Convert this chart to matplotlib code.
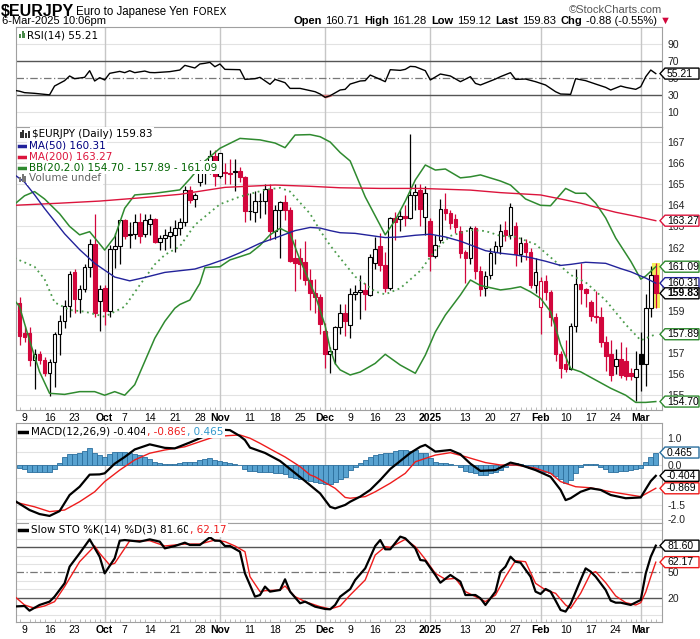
import numpy as np
import pandas as pd
import matplotlib
matplotlib.use("Agg")
import matplotlib.pyplot as plt
from matplotlib.lines import Line2D
from matplotlib.patches import Polygon, Rectangle
from matplotlib.transforms import IdentityTransform

plt.rcParams["font.family"] = "DejaVu Sans"

W, H = 700, 639
RED = "#d2063c"
NAVY = "#22229a"
CRIMSON = "#dc143c"
GREEN = "#2f8a2f"
AXF = "Liberation Sans"

# ---- daily candles, 6-Sep-2024 .. 6-Mar-2025 ----
opens = [159.35, 157.95, 157.96, 156.65, 156.97, 156.69, 156.07, 156.59, 157.91, 158.54,
         159.22, 160.83, 159.57, 160.01, 161.06, 162.18, 159.46, 160.09, 158.98, 161.93,
         162.06, 163.28, 162.60, 162.64, 163.20, 162.64, 163.13, 163.35, 162.26, 162.45,
         162.55, 162.60, 162.92, 163.20, 164.72, 164.31, 165.10, 165.67, 165.79, 166.35,
         165.41, 165.60, 165.55, 165.60, 165.63, 165.36, 163.72, 163.70, 164.18, 164.22,
         164.76, 162.76, 163.79, 164.15, 163.79, 161.50, 161.50, 161.30, 160.48, 159.85,
         159.65, 158.04, 156.94, 157.20, 158.24, 158.90, 158.35, 159.80, 159.90, 160.00,
         159.77, 161.27, 162.09, 161.19, 160.09, 163.39, 163.35, 163.50, 163.39, 164.50,
         164.72, 163.44, 163.27, 161.58, 162.37, 163.82, 163.63, 163.35, 162.80, 161.77,
         161.50, 162.92, 160.87, 160.06, 160.68, 161.80, 162.05, 162.84, 162.60, 163.03,
         161.69, 162.20, 161.80, 160.21, 159.17, 160.40, 159.88, 158.70, 156.94, 156.46,
         156.26, 158.28, 160.27, 160.04, 159.40, 158.75, 158.70, 157.50, 156.94, 156.40,
         156.73, 156.60, 156.07, 155.88, 156.97, 156.46, 159.14, 160.71]
highs = [159.65, 158.30, 158.25, 157.20, 157.10, 156.80, 156.70, 158.00, 158.80, 159.50,
         160.90, 161.00, 160.20, 161.20, 162.40, 163.58, 160.20, 160.20, 162.10, 162.70,
         163.30, 163.35, 163.20, 163.58, 163.63, 163.60, 163.60, 163.40, 162.60, 162.90,
         163.00, 163.30, 163.40, 164.90, 164.90, 164.60, 166.15, 165.95, 166.60, 166.60,
         166.50, 166.00, 166.20, 166.20, 165.80, 165.40, 164.60, 164.70, 164.60, 165.00,
         165.00, 164.00, 164.20, 164.50, 163.90, 162.40, 162.00, 162.30, 161.00, 160.50,
         159.80, 158.40, 157.30, 158.30, 159.30, 159.30, 160.10, 160.20, 160.70, 160.30,
         161.70, 162.50, 162.70, 161.80, 163.45, 163.68, 163.80, 164.00, 167.36, 165.00,
         165.00, 164.90, 163.40, 162.60, 164.30, 164.57, 163.80, 163.60, 163.00, 161.90,
         163.00, 163.00, 161.10, 160.90, 162.00, 162.30, 163.10, 163.24, 164.10, 163.20,
         162.50, 162.40, 162.00, 161.50, 160.60, 160.70, 160.00, 158.90, 157.10, 157.60,
         158.40, 161.00, 161.27, 160.10, 159.50, 159.93, 159.20, 157.80, 157.60, 157.20,
         157.50, 157.30, 156.30, 157.10, 158.00, 159.80, 161.10, 161.28]
lows = [157.40, 157.50, 156.40, 155.30, 156.50, 155.90, 154.97, 155.40, 156.90, 158.20,
        158.70, 158.90, 158.90, 159.90, 160.60, 158.70, 158.04, 158.35, 158.70, 161.03,
        161.20, 162.40, 162.00, 162.40, 162.20, 162.50, 162.60, 162.20, 161.90, 161.90,
        162.00, 161.80, 162.60, 163.00, 164.10, 163.90, 164.90, 165.00, 165.50, 164.90,
        165.30, 165.00, 165.00, 164.70, 165.10, 163.20, 163.30, 163.20, 163.40, 163.60,
        162.37, 162.40, 161.50, 163.30, 161.30, 159.93, 160.50, 160.20, 159.06, 158.90,
        157.90, 156.30, 156.07, 156.50, 157.90, 157.80, 157.70, 159.50, 158.60, 159.06,
        159.70, 161.00, 160.90, 159.90, 160.00, 162.37, 162.80, 163.00, 163.35, 163.80,
        163.00, 162.60, 160.87, 161.50, 162.20, 163.30, 162.90, 162.70, 161.50, 160.32,
        161.20, 160.50, 159.70, 159.70, 160.50, 161.20, 161.70, 162.30, 162.40, 161.10,
        161.30, 161.40, 160.10, 159.85, 157.88, 159.50, 158.30, 156.60, 155.83, 156.10,
        156.20, 158.00, 159.30, 159.20, 158.50, 158.40, 157.30, 156.15, 155.68, 156.00,
        155.80, 155.70, 155.70, 154.73, 155.20, 155.44, 158.70, 159.12]
closes = [157.80, 157.75, 156.65, 156.97, 156.65, 156.07, 156.59, 157.91, 158.54, 159.22,
          160.76, 159.54, 160.01, 161.06, 162.18, 158.91, 160.04, 158.98, 161.93, 162.06,
          163.28, 162.56, 162.64, 163.20, 162.56, 163.28, 163.35, 162.26, 162.45, 162.60,
          162.75, 162.92, 163.20, 164.72, 164.26, 164.50, 165.67, 165.79, 166.35, 165.41,
          166.46, 165.55, 165.50, 165.60, 165.36, 163.71, 163.75, 164.20, 164.22, 164.76,
          162.76, 163.79, 164.15, 163.79, 161.38, 161.27, 161.20, 160.48, 159.85, 159.65,
          158.39, 156.94, 157.10, 158.24, 158.90, 158.50, 159.80, 159.90, 160.00, 159.80,
          161.55, 161.93, 161.19, 160.09, 163.39, 163.23, 163.50, 163.39, 164.50, 164.63,
          163.83, 164.57, 161.58, 162.10, 163.82, 163.63, 163.16, 162.95, 161.74, 161.50,
          162.92, 160.87, 160.05, 160.64, 161.74, 162.05, 162.80, 162.60, 163.90, 161.69,
          162.20, 161.80, 160.21, 160.84, 160.40, 159.88, 158.70, 156.94, 156.30, 156.26,
          158.28, 160.27, 160.04, 159.85, 158.75, 158.70, 157.50, 156.86, 155.96, 156.70,
          155.96, 155.93, 155.90, 156.26, 156.46, 159.14, 160.68, 159.83]

# ---- overlays, read as (trading-day number, value) ----
ma50 = [(-1, 165.45), (1, 165.1), (3, 164.5), (5, 163.85), (7, 163.25), (9, 162.65),
        (12, 161.9), (15, 161.25), (19, 160.6), (22, 160.42), (25, 160.58), (29, 160.82),
        (32, 160.9), (35, 160.98), (38, 161.2), (41, 161.45), (44, 161.75), (48, 162.2),
        (51, 162.45), (55, 162.8), (58, 162.95), (60, 162.92), (62, 162.8), (64, 162.7),
        (67, 162.67), (70, 162.57), (73, 162.47), (76, 162.5), (79, 162.58), (82, 162.63),
        (85, 162.5), (88, 162.3), (90, 162.12), (93, 161.85), (96, 161.73), (99, 161.65),
        (102, 161.52), (105, 161.35), (108, 161.15), (110, 161.2), (113, 161.3), (117, 161.25),
        (120, 161.0), (122, 160.85), (125, 160.55), (127, 160.31)]
ma200 = [(-1, 164.0), (8, 164.1), (16, 164.2), (24, 164.35), (32, 164.52), (41, 164.85),
         (51, 164.96), (58, 164.9), (64, 164.83), (72, 164.8), (80, 164.8), (90, 164.72),
         (96, 164.6), (104, 164.49), (108, 164.3), (112, 164.1), (116, 163.85), (119, 163.67),
         (123, 163.48), (127, 163.27)]
bb_up = [(-1, 164.05), (1, 164.45), (3, 164.65), (5, 164.3), (8, 163.6), (10, 163.0),
         (12, 162.6), (14, 162.75), (17, 161.88), (19, 162.5), (21, 163.86), (23, 164.49),
         (27, 164.57), (32, 164.73), (34, 165.25), (37, 166.1), (40, 166.7), (44, 167.17),
         (48, 167.1), (51, 166.95), (53, 166.73), (55, 167.33), (58, 167.35), (60, 167.25),
         (62, 167.0), (64, 166.5), (66, 166.1), (69, 164.4), (71, 163.5), (73, 162.6),
         (75, 163.3), (77, 164.2), (79, 165.2), (81, 165.91), (83, 165.67), (85, 165.72),
         (88, 165.3), (90, 165.35), (92, 165.44), (96, 165.15), (98, 164.96), (101, 164.3),
         (104, 164.0), (106, 163.98), (109, 164.8), (111, 164.57), (113, 164.57), (115, 164.1),
         (117, 163.4), (119, 162.45), (122, 161.35), (124, 160.5), (125, 160.65), (127, 161.09)]
bb_mid = [(-1, 161.5), (3, 161.09), (5, 160.5), (7, 159.4), (10, 159.04), (13, 158.96),
          (17, 158.72), (21, 159.2), (24, 160.22), (27, 161.2), (29, 161.65), (32, 162.05),
          (35, 163.07), (40, 164.05), (44, 164.41), (49, 164.73), (52, 164.83), (54, 164.65),
          (58, 163.6), (60, 162.8), (62, 162.1), (64, 161.5), (67, 160.62), (71, 159.91),
          (73, 159.78), (76, 160.07), (80, 160.9), (83, 161.88), (86, 162.55), (90, 162.83),
          (93, 162.78), (96, 162.55), (99, 162.51), (103, 162.15), (107, 161.33), (110, 160.7),
          (113, 160.35), (117, 159.5), (121, 158.35), (124, 157.6), (127, 157.89)]
bb_low = [(-1, 159.5), (0, 159.2), (2, 157.6), (4, 156.11), (6, 155.09), (9, 155.04),
          (12, 155.17), (15, 155.17), (17, 155.0), (19, 155.17), (21, 155.0), (23, 155.5),
          (25, 156.6), (27, 157.7), (29, 158.5), (31, 159.12), (32, 159.3), (34, 159.51),
          (36, 160.3), (37, 161.05), (40, 161.09), (42, 161.41), (46, 161.72), (48, 162.1),
          (50, 162.6), (52, 162.91), (54, 162.67), (56, 161.4), (59, 159.75), (61, 158.3),
          (62, 157.2), (63, 156.5), (64, 156.2), (66, 155.96), (68, 156.1), (71, 156.51),
          (73, 156.94), (76, 156.43), (79, 156.04), (81, 156.9), (83, 158.0), (85, 158.8),
          (88, 159.75), (90, 160.46), (92, 160.2), (96, 159.99), (98, 160.05), (100, 160.14),
          (102, 159.9), (104, 159.59), (106, 158.96), (107, 158.2), (108, 157.4), (110, 156.27),
          (112, 156.11), (115, 155.72), (118, 155.33), (121, 155.0), (123, 154.66), (125, 154.66),
          (127, 154.70)]

rsi = [(-1, 35.5), (0, 34.5), (1, 32.8), (3, 32), (5, 30.8), (6, 30.2), (7, 40.6), (9, 46.9),
       (10, 52.4), (11, 49.2), (13, 50.8), (14, 58.6), (15, 46.5), (16, 50.4), (17, 47.7),
       (18, 55.5), (20, 57.8), (21, 56.3), (22, 58.6), (23, 56.3), (25, 58.2), (26, 56.5),
       (27, 56.3), (30, 57.5), (32, 59.4), (33, 64.9), (35, 61.8), (36, 66.5), (37, 67.3),
       (38, 68.4), (39, 63.3), (40, 66.5), (41, 60.2), (44, 59.8), (45, 48.4), (47, 49.2),
       (48, 50.8), (50, 42.6), (51, 48.4), (52, 46.5), (53, 44.5), (54, 37.8), (56, 37.8),
       (59, 33.9), (60, 31.2), (61, 27.3), (62, 29.2), (64, 35.9), (65, 36.7), (66, 42.9),
       (68, 46.5), (69, 46.9), (70, 53.5), (72, 48.4), (73, 45.7), (74, 59.8), (76, 59),
       (77, 60.2), (78, 63.7), (79, 63.3), (81, 58.6), (82, 47.7), (84, 54.7), (86, 52.4),
       (88, 45.7), (90, 51.6), (91, 43.7), (92, 41.8), (95, 48.8), (96, 51.6), (98, 56.3),
       (99, 48.4), (101, 48.8), (103, 45.7), (105, 41.8), (107, 33.9), (108, 31.2), (110, 30.8),
       (111, 49.2), (113, 46.9), (115, 42.9), (117, 39), (118, 35.9), (120, 40.6), (121, 39),
       (123, 36.7), (124, 39.8), (125, 51.6), (126, 59.4), (127, 55.21)]

macd = [(-1, -1.33), (2, -1.68), (4, -1.83), (6, -1.9), (8, -1.72), (10, -1.12), (12, -0.81),
        (14, -0.36), (16, -0.35), (17, -0.31), (19, 0.05), (21, 0.3), (23, 0.58), (26, 0.77),
        (29, 0.64), (31, 0.62), (34, 0.84), (37, 1.08), (38, 1.2), (40, 1.32), (42, 1.3),
        (44, 1.08), (45, 0.93), (46, 0.65), (49, 0.45), (52, 0.15), (54, -0.15), (56, -0.45),
        (57, -0.6), (60, -1.06), (62, -1.56), (63, -1.62), (65, -1.49), (66, -1.37),
        (68, -1.18), (70, -0.93), (72, -0.56), (74, -0.15), (76, 0.15), (78, 0.45), (80, 0.68),
        (81, 0.75), (83, 0.5), (86, 0.56), (88, 0.4), (90, 0.05), (92, -0.22), (95, -0.19),
        (98, 0.09), (100, 0.0), (103, -0.19), (106, -0.44), (108, -0.93), (109, -1.31),
        (110, -1.24), (112, -1.0), (114, -0.87), (116, -0.93), (118, -1.12), (121, -1.24),
        (124, -1.21), (125, -0.9), (126, -0.6), (127, -0.404)]
signal = [(-1, -1.38), (3, -1.56), (6, -1.74), (9, -1.68), (12, -1.37), (15, -1.0),
          (17, -0.62), (20, -0.19), (23, 0.19), (26, 0.44), (29, 0.56), (33, 0.68), (36, 0.87),
          (39, 1.06), (42, 1.1), (44, 1.12), (46, 1.0), (48, 0.81), (51, 0.5), (53, 0.3),
          (55, 0.06), (56, -0.06), (58, -0.37), (59, -0.44), (63, -0.87), (65, -1.21),
          (66, -1.24), (69, -1.18), (71, -1.0), (74, -0.68), (77, -0.31), (79, 0.12),
          (83, 0.37), (86, 0.46), (89, 0.31), (93, 0.09), (96, 0.0), (99, 0.0), (103, -0.12),
          (106, -0.31), (108, -0.62), (111, -0.81), (114, -0.85), (118, -1.0), (122, -1.12),
          (124, -1.18), (127, -0.869)]
hist = [-0.12, -0.16, -0.27, -0.27, -0.27, -0.27, -0.25, -0.16, 0.06, 0.29,
        0.41, 0.41, 0.46, 0.53, 0.62, 0.46, 0.37, 0.29, 0.41, 0.47,
        0.50, 0.50, 0.46, 0.41, 0.37, 0.31, 0.21, 0.12, 0.06, 0.04,
        0.04, 0.04, 0.06, 0.10, 0.10, 0.12, 0.19, 0.22, 0.25, 0.19,
        0.16, 0.12, 0.09, 0.04, 0.00, -0.16, -0.21, -0.22, -0.25, -0.25,
        -0.27, -0.29, -0.31, -0.34, -0.43, -0.50, -0.53, -0.56, -0.58, -0.62,
        -0.66, -0.71, -0.71, -0.62, -0.53, -0.43, -0.19, -0.09, 0.09, 0.19,
        0.31, 0.37, 0.41, 0.43, 0.46, 0.52, 0.56, 0.56, 0.52, 0.56,
        0.46, 0.43, 0.25, 0.12, 0.09, 0.06, 0.04, 0.00, -0.06, -0.21,
        -0.25, -0.31, -0.37, -0.37, -0.31, -0.25, -0.19, -0.06, 0.04, 0.06,
        0.04, -0.04, -0.12, -0.16, -0.21, -0.27, -0.31, -0.41, -0.53, -0.66,
        -0.56, -0.31, -0.06, 0.02, 0.02, 0.02, -0.06, -0.16, -0.25, -0.25,
        -0.22, -0.21, -0.19, -0.16, -0.12, 0.12, 0.31, 0.465]

sto_k = [(-1, 10), (1, 10.6), (2, 5.1), (4, 11.8), (6, 15.7), (7, 21.6), (9, 37.3), (10, 56.9),
         (12, 72.6), (14, 89), (16, 68.6), (17, 49), (19, 66.7), (20, 87.4), (21, 88.2),
         (24, 86.3), (26, 89), (28, 86.3), (29, 78.4), (31, 81.2), (33, 85.1), (34, 82.4),
         (36, 82.4), (38, 91.4), (39, 87.4), (40, 87.4), (41, 81.2), (42, 81.2), (44, 74.5),
         (45, 49), (47, 21.6), (48, 23.5), (49, 33.4), (50, 27.5), (52, 29.4), (53, 42),
         (54, 27.5), (56, 13.8), (57, 15.7), (59, 9.8), (61, 7.1), (62, 6.7), (63, 11.8),
         (64, 21.6), (66, 30.5), (67, 41.2), (69, 54.9), (71, 81.2), (72, 88.2), (73, 77.3),
         (74, 77.3), (76, 92.2), (77, 90.2), (79, 78.4), (80, 64.7), (81, 63.9), (83, 47.1),
         (84, 38), (86, 47.1), (88, 39.2), (89, 23.5), (91, 23.5), (92, 19.6), (93, 11.8),
         (95, 27.5), (96, 51), (97, 56.9), (98, 68.6), (99, 62.7), (100, 61.6), (102, 45.1),
         (103, 27.5), (104, 24.7), (105, 30.6), (106, 27.5), (107, 16.9), (108, 5.9), (109, 4),
         (110, 13), (112, 41.2), (113, 54.9), (114, 51), (115, 45.1), (117, 29.4), (118, 16.9),
         (119, 14.5), (120, 14.5), (122, 11.8), (124, 17.7), (125, 49), (126, 68.6), (127, 81.6)]
sto_d = [(-1, 22), (1, 11.8), (3, 7.9), (5, 10.6), (7, 15.7), (9, 33.4), (12, 62.7), (15, 81.2),
         (16, 72.6), (18, 58.8), (19, 60.8), (21, 78.4), (22, 87.4), (26, 87.4), (29, 81.2),
         (33, 83.5), (36, 83.5), (39, 88.2), (41, 86.3), (43, 81.2), (45, 74.5), (46, 45.1),
         (48, 27.5), (49, 28.6), (52, 29.4), (53, 34.1), (55, 21.6), (57, 15.7), (60, 9.8),
         (62, 7.1), (64, 10.6), (66, 23.5), (69, 41.2), (71, 70.6), (73, 80.4), (74, 79.6),
         (77, 89), (79, 80.4), (81, 65.5), (83, 49), (85, 42), (87, 43.1), (89, 27.5),
         (91, 21.6), (93, 15.7), (95, 23.5), (97, 45.1), (99, 63.9), (101, 62.7), (103, 37.3),
         (105, 29.4), (107, 25.5), (109, 11.8), (110, 7.9), (112, 25.5), (114, 49), (115, 51),
         (117, 38), (119, 22.4), (121, 14.5), (123, 11.8), (124, 14.5), (125, 27), (126, 45),
         (127, 62.17)]

dates = pd.bdate_range("2024-09-06", "2025-03-06")
dates = dates[~dates.isin(pd.to_datetime(["2024-12-25", "2025-01-01"]))]
xb = np.arange(len(dates))

month_idx = [i for i in range(1, len(dates)) if dates[i].month != dates[i - 1].month]
month_lab = [str(dates[i].year) if dates[i].month == 1 else dates[i].strftime("%b") for i in month_idx]
week_idx = [i for i in range(len(dates)) if dates[i].weekday() == 0
            and min(abs(i - m) for m in month_idx) > 3]
tick_pos = sorted(week_idx + month_idx)
tick_lab = [month_lab[month_idx.index(i)] if i in month_idx else str(dates[i].day) for i in tick_pos]


def xy(pairs):
    a = np.array(pairs, dtype=float)
    return a[:, 0], a[:, 1]


fig = plt.figure(figsize=(W / 100, H / 100), dpi=100)


def panel(top, bottom, ylim, yticks, ylabels, grid):
    ax = fig.add_axes([16 / W, 1 - bottom / H, 646 / W, (bottom - top) / H])
    ax.set_xlim(-0.7, 128.24)
    ax.set_ylim(*ylim)
    ax.yaxis.tick_right()
    ax.set_yticks(yticks)
    ax.set_yticklabels(ylabels, family=AXF, fontsize=7.5, color="#222222")
    ax.tick_params(axis="y", length=0, pad=4)
    ax.set_xticks([])
    for s in ax.spines.values():
        s.set_color("#a0a0a0")
    for g in grid:
        ax.axhline(g, color="#e2e2e2", lw=0.8, zorder=0)
    for m in month_idx:
        ax.axvline(m, color="#c6c6c6", lw=1, zorder=0)
    return ax


def xlabels(ax):
    ax.set_xticks(tick_pos)
    ax.set_xticklabels(tick_lab, family=AXF, fontsize=7.5)
    for t, s in zip(ax.get_xticklabels(), tick_lab):
        if not s.isdigit() or len(s) == 4:
            t.set_fontweight("bold")
    ax.set_xticks(xb, minor=True)
    ax.tick_params(axis="x", which="major", length=0, pad=2)
    ax.tick_params(axis="x", which="minor", length=2, direction="in", color="#b0b0b0")


# ---- RSI ----
ax_rsi = panel(27, 127, (-7.6, 110), [10, 30, 50, 70, 90], ["10", "30", "50", "70", "90"], [10, 90])
ax_rsi.axhline(70, color="#555555", lw=1, zorder=1)
ax_rsi.axhline(30, color="#555555", lw=1, zorder=1)
ax_rsi.axhline(50, color="#777777", lw=0.9, ls=(0, (6, 2, 1, 2)), zorder=1)
ri, rv = xy(rsi)
ax_rsi.fill_between(ri, rv, 30, where=rv < 30, interpolate=True, color="#e07a7a", zorder=2)
ax_rsi.plot(ri, rv, color="black", lw=1, zorder=3)

# ---- price (labels hidden under the value tags are left out) ----
p_ticks = [155, 156, 157, 159, 162, 163, 164, 165, 166, 167]
ax_p = panel(127, 410, (154.3, 167.71), p_ticks, [str(v) for v in p_ticks], list(range(155, 168)))
o, hi, lo, c = map(np.array, (opens, highs, lows, closes))
prev = np.r_[np.inf, c[:-1]]
col = np.where(c < prev, RED, "black")
face = np.where(c > o, "white", col)
ax_p.bar(xb[-1], hi[-1] - lo[-1], bottom=lo[-1], width=1.6, color="#f4f05a", zorder=1.5)
ax_p.vlines(xb, lo, hi, colors=col, lw=0.9, zorder=2)
ax_p.bar(xb, np.maximum(np.abs(c - o), 0.03), bottom=np.minimum(o, c), width=0.74,
         color=face, edgecolor=col, linewidth=0.8, zorder=3)
for data, color, ls, lw in [(bb_mid, "#4c9c4c", (0, (1, 2)), 1.3), (bb_up, GREEN, "-", 1.1),
                            (bb_low, GREEN, "-", 1.1), (ma200, CRIMSON, "-", 1.0),
                            (ma50, NAVY, "-", 1.0)]:
    px, pv = xy(data)
    ax_p.plot(px, pv, color=color, ls=ls, lw=lw, zorder=4)
xlabels(ax_p)

# ---- MACD ----
ax_m = panel(423.3, 522.7, (-2.153, 1.556), [-2.0, -1.5, 0.0, 1.0],
             ["-2.0", "-1.5", "0.0", "1.0"], [-2.0, -1.5, -1.0, -0.5, 0.0, 0.5, 1.0])
ax_m.bar(xb, hist, width=1.0, color="#58a2d0", edgecolor="#2b6f9e", linewidth=0.6, zorder=2)
mx, mv = xy(macd)
sx, sv = xy(signal)
ax_m.plot(sx, sv, color="#ee1c1c", lw=1, zorder=3)
ax_m.plot(mx, mv, color="black", lw=1.6, zorder=4)

# ---- Slow STO ----
ax_s = panel(522.7, 622.3, (-8.6, 108.6), [20, 50], ["20", "50"],
             [0, 10, 30, 40, 60, 70, 90, 100])
ax_s.axhline(80, color="#555555", lw=1, zorder=1)
ax_s.axhline(20, color="#555555", lw=1, zorder=1)
ax_s.axhline(50, color="#777777", lw=0.9, ls=(0, (6, 2, 1, 2)), zorder=1)
kx, kv = xy(sto_k)
dx, dv = xy(sto_d)
ax_s.plot(dx, dv, color="#ee1c1c", lw=1, zorder=3)
ax_s.plot(kx, kv, color="black", lw=1.6, zorder=4)
xlabels(ax_s)

# ---- texts ----
rend = fig.canvas.get_renderer()


def ftext(x, y, s, **kw):
    kw.setdefault("va", "center")
    return fig.text(x / W, 1 - y / H, s, **kw)


def seq(x, y, parts, **kw):
    for s, color, weight, gap in parts:
        t = ftext(x, y, s, color=color, fontweight=weight, **kw)
        x += t.get_window_extent(rend).width + gap
    return x


def mark(y, color, lw=2.5):
    fig.add_artist(Line2D([19 / W, 28 / W], [1 - y / H] * 2, color=color, lw=lw))


def icon_bars(x, y, heights, color):
    for k, h in enumerate(heights):
        fig.add_artist(Rectangle(((x + 2.5 * k) / W, 1 - y / H), 2 / W, h / H,
                                 color=color, lw=0))


ftext(1, 12, "$EURJPY", fontsize=11.5, fontweight="bold", family=AXF)
ftext(76, 12, "Euro to Japanese Yen", fontsize=8.3, family=AXF)
ftext(193, 12, "FOREX", fontsize=7.2, family="DejaVu Sans")
ftext(662, 10, "\u00a9StockCharts.com", fontsize=8, family=AXF, color="#555555", ha="right")
ftext(2, 21, "6-Mar-2025 10:06pm", fontsize=8, family=AXF)
seq(294, 21, [("Open", "black", "bold", 3), ("160.71", "black", "normal", 5),
              ("High", "black", "bold", 3), ("161.28", "black", "normal", 5),
              ("Low", "black", "bold", 3), ("159.12", "black", "normal", 5),
              ("Last", "black", "bold", 3), ("159.83", "black", "normal", 5),
              ("Chg", "black", "bold", 3), ("-0.88 (-0.55%)", "black", "normal", 3),
              ("\u25bc", RED, "normal", 0)], fontsize=8, family=AXF)

bg = dict(boxstyle="square,pad=0.15", fc="white", ec="none")
icon_bars(19, 38, [4, 7, 5], "#4a8a4a")
ftext(27, 35, "RSI(14) 55.21", fontsize=7.5, bbox=bg)
icon_bars(20, 138, [6, 8, 5, 7], "#333333")
ftext(32, 134, "$EURJPY (Daily) 159.83", fontsize=7.5, bbox=bg)
mark(145.5, NAVY)
ftext(29, 145.5, "MA(50) 160.31", fontsize=7.5, color="#000080", bbox=bg)
mark(156.5, CRIMSON)
ftext(29, 156.5, "MA(200) 163.27", fontsize=7.5, color=CRIMSON, bbox=bg)
mark(167.5, GREEN)
ftext(29, 167.5, "BB(20,2.0) 154.70 - 157.89 - 161.09", fontsize=7.5, color="#006400", bbox=bg)
icon_bars(19, 182, [5, 8, 6], "#777777")
ftext(29, 178, "Volume undef", fontsize=7.5, color="#666666", bbox=bg)
mark(431.5, "black")
seq(31, 431.5, [("MACD(12,26,9) -0.404", "black", "normal", 0), (", -0.869", "#ee1c1c", "normal", 0),
                (", 0.465", "#3399cc", "normal", 0)], fontsize=7.5, bbox=bg)
mark(530, "black")
seq(31, 530, [("Slow STO %K(14) %D(3) 81.60", "black", "normal", 0),
              (", 62.17", "#ee1c1c", "normal", 0)], fontsize=7.5, bbox=bg)


def tag(ax, val, label, ec, bold=False):
    xd = ax.transAxes.transform((1, 0))[0]
    yd = ax.transData.transform((0, val))[1]
    pts = [(xd - 2, yd), (xd + 3, yd + 5.5), (xd + 37, yd + 5.5), (xd + 37, yd - 5.5), (xd + 3, yd - 5.5)]
    fig.add_artist(Polygon(pts, closed=True, transform=IdentityTransform(), fc="white",
                           ec=ec, lw=1, zorder=10))
    fig.text(xd + 5, yd, label, transform=IdentityTransform(), fontsize=7.5, family=AXF,
             va="center", ha="left", fontweight="bold" if bold else "normal", zorder=11)


tag(ax_rsi, 55.21, "55.21", "black")
tag(ax_p, 163.27, "163.27", CRIMSON)
tag(ax_p, 161.09, "161.09", GREEN)
tag(ax_p, 160.31, "160.31", NAVY)
tag(ax_p, 159.83, "159.83", "black", bold=True)
tag(ax_p, 157.89, "157.89", GREEN)
tag(ax_p, 154.70, "154.70", GREEN)
tag(ax_m, 0.465, "0.465", "#2b6f9e")
tag(ax_m, -0.404, "-0.404", "black")
tag(ax_m, -0.869, "-0.869", "#ee1c1c")
tag(ax_s, 81.60, "81.60", "black")
tag(ax_s, 62.17, "62.17", "#ee1c1c")

fig.savefig("out.png", dpi=100)
